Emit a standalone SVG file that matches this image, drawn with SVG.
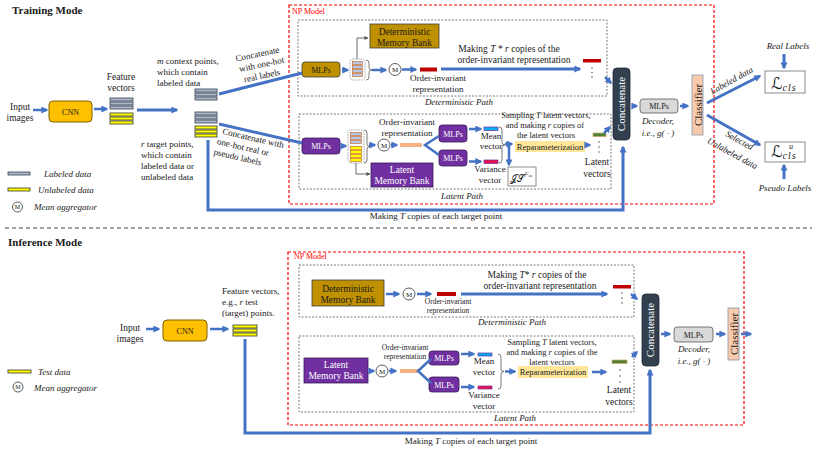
<svg xmlns="http://www.w3.org/2000/svg" width="822" height="453" viewBox="0 0 822 453" font-size="9">
<defs>
<style>
text{font-family:"Liberation Serif","Times New Roman",serif;fill:#1a1a1a}
.i{font-style:italic}
.bd{font-weight:bold}
.c{text-anchor:middle}
.w{fill:#fff}
.bl{stroke:#4472C4;stroke-width:2.5;fill:none;marker-end:url(#a)}
.bl3{stroke:#4472C4;stroke-width:3;fill:none;marker-end:url(#a)}
.bt{stroke:#4472C4;stroke-width:3;fill:none}
.bf{stroke:#4472C4;stroke-width:2.5;fill:none}
.gl{stroke:#595959;stroke-width:0.9;fill:none;marker-end:url(#g)}
.np{fill:none;stroke:#FF0000;stroke-width:1.2;stroke-dasharray:3,2}
.pb{fill:none;stroke:#595959;stroke-width:0.8;stroke-dasharray:2,1.5}
.cnn{fill:#FFC000;stroke:#7F6000;stroke-width:1}
.dmb{fill:#BF9000;stroke:#3F3F3F;stroke-width:0.8}
.pur{fill:#7030A0;stroke:#3B1A5A;stroke-width:0.8}
.gb{fill:#ADB9CA;stroke:#333F50;stroke-width:0.8}
.yb{fill:#FFFF00;stroke:#333333;stroke-width:0.8}
.sb{fill:#B4C7E7;stroke:#C55A11;stroke-width:0.6}
.sy{fill:#FFFF00;stroke:#C55A11;stroke-width:0.6}
.ds{fill:none;stroke:#7F7F7F;stroke-width:0.7;stroke-dasharray:1.5,1}
.br{fill:none;stroke:#595959;stroke-width:0.8}
.cc{fill:#323F4F;stroke:#1F2733;stroke-width:0.8}
.dec{fill:#D9D9D9;stroke:#595959;stroke-width:0.8}
.cl{fill:#F8CBAD;stroke:#8497B0;stroke-width:0.8}
.ag{fill:#fff;stroke:#333;stroke-width:0.8}
.lb{fill:#fff;stroke:#7F7F7F;stroke-width:0.9}
.rp{fill:#FFE699}
.red{fill:#C00000}
.org{fill:#F4B183}
.mn{fill:#00B0F0;stroke:#7030A0;stroke-width:0.7}
.vr{fill:#E8114C;stroke:#7030A0;stroke-width:0.7}
.gr{fill:#548235;stroke:#C9A66B;stroke-width:0.7}
.dot{fill:#333}
.ml{font-family:"DejaVu Serif","DejaVu Sans",serif}
</style>
<marker id="a" viewBox="0 0 10 10" refX="8" refY="5" markerWidth="7" markerHeight="7" markerUnits="userSpaceOnUse" orient="auto"><path d="M0,0L10,5L0,10z" fill="#4472C4"/></marker>
<marker id="g" viewBox="0 0 10 10" refX="9" refY="5" markerWidth="4" markerHeight="4" markerUnits="userSpaceOnUse" orient="auto"><path d="M0,0L10,5L0,10z" fill="#595959"/></marker>
</defs>
<rect width="822" height="453" fill="#fff"/>

<!-- ================= TRAINING MODE ================= -->
<g id="title-train"><text x="12" y="14" class="bd" font-size="11">Training Mode</text></g>
<g id="input-train"><text class="c" x="20" y="110" font-size="9.5">Input</text><text class="c" x="20" y="121" font-size="9.5">images</text></g>
<g id="cnn-train"><rect class="cnn" x="49" y="101" width="43" height="21" rx="4"/><text class="c" x="70.5" y="114.5" font-size="8">CNN</text></g>
<g id="features-train">
<text class="c" x="121" y="80" font-size="9.5">Feature</text><text class="c" x="121" y="91" font-size="9.5">vectors</text>
<rect class="gb" x="110" y="98" width="23" height="3"/><rect class="gb" x="110" y="102" width="23" height="3"/><rect class="gb" x="110" y="106" width="23" height="3"/>
<rect class="yb" x="110" y="113" width="23" height="3"/><rect class="yb" x="110" y="117" width="23" height="3"/><rect class="yb" x="110" y="121" width="23" height="3"/>
</g>
<g id="context-points">
<text x="157" y="64"><tspan class="i">m</tspan> context points,</text><text x="157" y="75">which contain</text><text x="157" y="86">labeled data</text>
<rect class="gb" x="195" y="89" width="22" height="3"/><rect class="gb" x="195" y="93" width="22" height="3"/><rect class="gb" x="195" y="97" width="22" height="3"/>
</g>
<g id="target-points">
<rect class="gb" x="195" y="112" width="22" height="3"/><rect class="gb" x="195" y="116" width="22" height="3"/><rect class="gb" x="195" y="120" width="22" height="3"/>
<rect class="yb" x="195" y="126" width="22" height="3"/><rect class="yb" x="195" y="130" width="22" height="3"/><rect class="yb" x="195" y="134" width="22" height="3"/>
<text x="141" y="147"><tspan class="i">r</tspan> target points,</text><text x="141" y="158">which contain</text><text x="141" y="169">labeled data or</text><text x="141" y="180">unlabeled data</text>
</g>
<g id="concat-label-1" transform="translate(258,57) rotate(-12)">
<text class="c" x="0" y="0">Concatenate</text><text class="c" x="2" y="11">with one-hot</text><text class="c" x="0" y="22">real labels</text>
</g>
<g id="concat-label-2" transform="translate(222,134) rotate(13)">
<text x="0" y="0">Concatenate with</text><text x="-3" y="11">one-hot real or</text><text x="-4" y="22">pseudo labels</text>
</g>
<g id="legend-train">
<rect class="gb" x="8" y="172" width="22" height="3"/><text class="i" x="44" y="176.5">Labeled data</text>
<rect class="yb" x="8" y="188" width="22" height="3"/><text class="i" x="38" y="193">Unlabeled data</text>
<circle class="ag" cx="17.5" cy="207" r="5"/><text class="c" x="17.5" y="209.2" font-size="6">M</text><text class="i" x="34" y="210">Mean aggregator</text>
</g>
<g id="np-train">
<rect class="np" x="289" y="5" width="425" height="199"/>
<text x="292" y="14" font-size="8" style="fill:#FF0000">NP Model</text>
<rect class="pb" x="298" y="20" width="309" height="76"/>
<text class="i c" x="459" y="105">Deterministic Path</text>
<rect class="pb" x="299" y="114" width="312" height="75"/>
<text class="i c" x="462" y="199">Latent Path</text>
</g>
<g id="det-mlps-train"><rect class="dmb" x="302" y="62" width="38" height="15" rx="3"/><text class="c" x="321" y="72.8" font-size="8">MLPs</text></g>
<g id="det-stack-train">
<rect class="ds" x="350" y="59" width="15" height="21" rx="3"/>
<rect class="sb" x="352.5" y="61.5" width="10" height="3"/><rect class="sb" x="352.5" y="65.5" width="10" height="3"/><rect class="sb" x="352.5" y="69.5" width="10" height="3"/><rect class="sb" x="352.5" y="73.5" width="10" height="3"/>
<path class="br" d="M366,60 q3,0 3,3 v4.5 q0,2.5 3,2.5 q-3,0 -3,2.5 v4.5 q0,3 -3,3"/>
</g>
<g id="det-mb-train"><rect class="dmb" x="370" y="24" width="69" height="24"/><text class="c" x="404.5" y="35" font-size="9.5">Deterministic</text><text class="c" x="404.5" y="45.5" font-size="9.5">Memory Bank</text></g>
<g id="det-agg-train"><circle class="ag" cx="395" cy="69.5" r="6"/><text class="c" x="395" y="72" font-size="7">M</text></g>
<g id="det-rep-train"><rect class="red" x="420" y="67.5" width="17" height="4"/><text class="c" x="438" y="81">Order-invariant</text><text class="c" x="438" y="92">representation</text></g>
<g id="det-copies-train"><text class="c" x="509" y="52" font-size="9.5">Making <tspan class="i">T</tspan> * <tspan class="i">r</tspan> copies of the</text><text class="c" x="514" y="63" font-size="9.5">order-invariant representation</text>
<rect class="red" x="583" y="59" width="18" height="3.5"/><circle class="dot" cx="592" cy="68" r="0.7"/><circle class="dot" cx="592" cy="72.5" r="0.7"/><circle class="dot" cx="592" cy="77" r="0.7"/></g>

<g id="lat-mlps-train"><rect class="pur" x="302" y="138" width="38" height="16" rx="3"/><text class="c w" x="321" y="149" font-size="8">MLPs</text></g>
<g id="lat-stack-train">
<rect class="ds" x="348" y="130" width="16" height="33" rx="3"/>
<rect class="sb" x="350.5" y="132.5" width="11" height="3"/><rect class="sb" x="350.5" y="136.5" width="11" height="3"/><rect class="sb" x="350.5" y="140.5" width="11" height="3"/>
<rect class="sy" x="350.5" y="146.5" width="11" height="3"/><rect class="sy" x="350.5" y="150.5" width="11" height="3"/><rect class="sy" x="350.5" y="154.5" width="11" height="3"/><rect class="sy" x="350.5" y="158.5" width="11" height="3"/>
<path class="br" d="M364,130 q3,0 3,3 v11 q0,2.5 3,2.5 q-3,0 -3,2.5 v11 q0,3 -3,3"/>
</g>
<g id="lat-mb-train"><rect class="pur" x="371" y="163" width="62" height="24"/><text class="c w" x="402" y="173" font-size="9.5">Latent</text><text class="c w" x="402" y="184" font-size="9.5">Memory Bank</text></g>
<g id="lat-agg-train"><circle class="ag" cx="384" cy="145" r="6"/><text class="c" x="384" y="147.5" font-size="7">M</text></g>
<g id="lat-rep-train"><rect class="org" x="400" y="143" width="22" height="4"/><text class="c" x="407" y="125">Order-invariant</text><text class="c" x="407" y="136">representation</text></g>
<g id="mean-mlps-train"><rect class="pur" x="439" y="125" width="28" height="17" rx="3"/><text class="c w" x="453" y="136.5" font-size="8">MLPs</text></g>
<g id="var-mlps-train"><rect class="pur" x="439" y="150" width="28" height="16" rx="3"/><text class="c w" x="453" y="161" font-size="8">MLPs</text></g>
<g id="mean-vec-train"><rect class="mn" x="484" y="127" width="14" height="3.5"/><text class="c" x="491" y="138.5">Mean</text><text class="c" x="491" y="149">vector</text></g>
<g id="var-vec-train"><rect class="vr" x="484" y="160" width="14" height="3.5"/><text class="c" x="490" y="172">Variance</text><text class="c" x="490" y="183">vector</text></g>
<path class="br" d="M499,127 q3,0 3,3 v12.5 q0,2.5 3,2.5 q-3,0 -3,2.5 v12.5 q0,3 -3,3"/>
<g id="reparam-train"><rect class="rp" x="515" y="141" width="70" height="11"/><text class="c" x="550" y="149.5" font-size="8.5">Reparameterization</text>
<text class="c" x="546" y="118" font-size="8.5">Sampling <tspan class="i">T</tspan> latent vectors,</text><text class="c" x="545" y="128" font-size="8.5">and making <tspan class="i">r</tspan> copies of</text><text class="c" x="546" y="138" font-size="8.5">the latent vectors</text></g>
<g id="js-train"><rect class="lb" x="508" y="167" width="28" height="19"/><text class="ml" x="510" y="182" font-size="10">𝒥𝒮<tspan class="i" font-size="5" dy="-7" style="font-family:'Liberation Serif',serif">G</tspan><tspan class="i" font-size="3.5" dy="1.5" style="font-family:'Liberation Serif',serif">αu</tspan></text></g>
<g id="latent-vec-train"><rect class="gr" x="593" y="133" width="13" height="3.5"/><circle class="dot" cx="599" cy="142" r="0.7"/><circle class="dot" cx="599" cy="147" r="0.7"/><circle class="dot" cx="599" cy="152" r="0.7"/><text class="c" x="597" y="165" font-size="9.5">Latent</text><text class="c" x="597" y="177" font-size="9.5">vectors</text></g>
<g id="concat-train"><rect class="cc" x="613" y="68" width="17" height="72" rx="4"/><text class="c w" transform="translate(625,104) rotate(-90)" font-size="11">Concatenate</text></g>
<g id="decoder-train"><rect class="dec" x="640" y="99" width="38" height="14" rx="3"/><text class="c" x="659" y="109" font-size="8">MLPs</text><text class="c i" x="658" y="124">Decoder,</text><text class="c i" x="658" y="136">i.e., g( · )</text></g>
<g id="classifier-train"><rect class="cl" x="692" y="75" width="11" height="60"/><text class="c" transform="translate(701.5,105) rotate(-90)" font-size="11">Classifier</text></g>
<g id="lcls"><rect class="lb" x="765" y="71" width="40" height="22"/><text class="ml" x="771" y="89" font-size="16">ℒ<tspan class="i" font-size="10" dy="2" letter-spacing="1" style="font-family:'Liberation Serif',serif">cls</tspan></text>
<text class="c i" x="788" y="49">Real Labels</text></g>
<g id="lucls"><rect class="lb" x="765" y="142" width="40" height="20"/><text class="ml" x="771" y="157" font-size="16">ℒ<tspan class="i" font-size="10" dy="2" letter-spacing="1" style="font-family:'Liberation Serif',serif">cls</tspan></text><text class="i" x="789" y="149" font-size="8">u</text>
<text class="c i" x="785" y="191">Pseudo Labels</text></g>
<g id="cls-labels-train">
<text class="c i" transform="translate(733,83) rotate(-29)">Labeled data</text>
<text class="c i" transform="translate(738,143) rotate(29)">Selected</text>
<text class="c i" transform="translate(731,156) rotate(29)">Unlabeled data</text>
</g>
<g id="copies-target-train"><text class="c" x="436" y="219">Making <tspan class="i">T</tspan> copies of each target point</text></g>

<line x1="5" y1="228" x2="812" y2="228" stroke="#404040" stroke-width="1.2" stroke-dasharray="4,3"/>

<!-- ================= INFERENCE MODE ================= -->
<g id="title-inf"><text x="8" y="246" class="bd" font-size="11">Inference Mode</text></g>
<g id="input-inf"><text class="c" x="130" y="331" font-size="9.5">Input</text><text class="c" x="130" y="342" font-size="9.5">images</text></g>
<g id="cnn-inf"><rect class="cnn" x="163" y="320" width="44" height="21" rx="4"/><text class="c" x="185" y="333.5" font-size="8">CNN</text></g>
<g id="features-inf">
<text x="222" y="294">Feature vectors,</text><text x="222" y="305">e.g., <tspan class="i">r</tspan> test</text><text x="222" y="316">(target) points.</text>
<rect class="yb" x="233" y="325" width="24" height="3"/><rect class="yb" x="233" y="329" width="24" height="3"/><rect class="yb" x="233" y="333" width="24" height="3"/>
</g>
<g id="legend-inf">
<rect class="yb" x="8" y="370" width="23" height="3"/><text class="i" x="38" y="375">Test data</text>
<circle class="ag" cx="18" cy="387" r="5"/><text class="c" x="18" y="389.2" font-size="6">M</text><text class="i" x="34" y="391">Mean aggregator</text>
</g>
<g id="np-inf">
<rect class="np" x="288" y="252" width="456" height="173"/>
<text x="294" y="259" font-size="8" style="fill:#FF0000">NP Model</text>
<rect class="pb" x="299" y="265" width="335" height="52"/>
<text class="i c" x="512" y="325">Deterministic Path</text>
<rect class="pb" x="299" y="336" width="335" height="76"/>
<text class="i c" x="515" y="421">Latent Path</text>
</g>
<g id="det-mb-inf"><rect class="dmb" x="312" y="280" width="72" height="26"/><text class="c" x="348" y="292" font-size="9.5">Deterministic</text><text class="c" x="348" y="303" font-size="9.5">Memory Bank</text></g>
<g id="det-agg-inf"><circle class="ag" cx="409" cy="294" r="6"/><text class="c" x="409" y="296.5" font-size="7">M</text></g>
<g id="det-rep-inf"><rect class="red" x="437" y="292" width="19" height="4"/><text class="c" x="448" y="304" font-size="7.5">Order-invariant</text><text class="c" x="448" y="313" font-size="7.5">representation</text></g>
<g id="det-copies-inf"><text class="c" x="537" y="278" font-size="9.5">Making <tspan class="i">T</tspan>*  <tspan class="i">r</tspan> copies of the</text><text class="c" x="540" y="289" font-size="9.5">order-invariant representation</text>
<rect class="red" x="613" y="285" width="18" height="3.5"/><circle class="dot" cx="622" cy="293" r="0.7"/><circle class="dot" cx="622" cy="298" r="0.7"/><circle class="dot" cx="622" cy="303" r="0.7"/></g>
<g id="lat-mb-inf"><rect class="pur" x="304" y="358" width="64" height="25"/><text class="c w" x="336" y="368" font-size="9.5">Latent</text><text class="c w" x="336" y="379" font-size="9.5">Memory Bank</text></g>
<g id="lat-agg-inf"><circle class="ag" cx="382" cy="371" r="6"/><text class="c" x="382" y="373.5" font-size="7">M</text></g>
<g id="lat-rep-inf"><rect class="org" x="400" y="369" width="18" height="4"/><text class="c" x="405" y="350" font-size="7.5">Order-invariant</text><text class="c" x="405" y="358.5" font-size="7.5">representation</text></g>
<g id="mean-mlps-inf"><rect class="pur" x="429" y="351" width="30" height="14" rx="3"/><text class="c w" x="444" y="361" font-size="8">MLPs</text></g>
<g id="var-mlps-inf"><rect class="pur" x="429" y="377" width="30" height="15" rx="3"/><text class="c w" x="444" y="387.5" font-size="8">MLPs</text></g>
<g id="mean-vec-inf"><rect class="mn" x="478" y="353" width="14" height="3"/><text class="c" x="484" y="364">Mean</text><text class="c" x="484" y="374.5">vector</text></g>
<g id="var-vec-inf"><rect class="vr" x="478" y="386" width="14" height="3"/><text class="c" x="484" y="397.5">Variance</text><text class="c" x="484" y="408.5">vector</text></g>
<path class="br" d="M498,354 q3,0 3,3 v12 q0,2.5 3,2.5 q-3,0 -3,2.5 v12 q0,3 -3,3"/>
<g id="reparam-inf"><rect class="rp" x="518" y="366" width="70" height="12"/><text class="c" x="553" y="375" font-size="8.5">Reparameterization</text>
<text class="c" x="552" y="345" font-size="8.5">Sampling <tspan class="i">T</tspan> latent vectors,</text><text class="c" x="552" y="355" font-size="8.5">and making <tspan class="i">r</tspan> copies of the</text><text class="c" x="552" y="364.5" font-size="8.5">latent vectors</text></g>
<g id="latent-vec-inf"><rect class="gr" x="612" y="360" width="15" height="3.5"/><circle class="dot" cx="620" cy="370" r="0.7"/><circle class="dot" cx="620" cy="376" r="0.7"/><circle class="dot" cx="620" cy="382" r="0.7"/><text class="c" x="619" y="393" font-size="9.5">Latent</text><text class="c" x="619" y="404.5" font-size="9.5">vectors</text></g>
<g id="concat-inf"><rect class="cc" x="642" y="294" width="17" height="72" rx="4"/><text class="c w" transform="translate(654,330) rotate(-90)" font-size="11">Concatenate</text></g>
<g id="decoder-inf"><rect class="dec" x="674" y="327" width="39" height="15" rx="3"/><text class="c" x="693.5" y="337.8" font-size="8">MLPs</text><text class="c i" x="694" y="352">Decoder,</text><text class="c i" x="694" y="364">i.e., g( · )</text></g>
<g id="classifier-inf"><rect class="cl" x="728" y="308" width="11" height="52"/><text class="c" transform="translate(737.5,334) rotate(-90)" font-size="11">Classifier</text></g>
<g id="copies-target-inf"><text class="c" x="471" y="444">Making <tspan class="i">T</tspan> copies of each target point</text></g>

<!-- ================= CONNECTORS ================= -->
<g id="connectors">
<line class="bl" x1="33" y1="110" x2="47" y2="110"/>
<line class="bl" x1="94" y1="109" x2="107" y2="109"/>
<line class="bl3" x1="137" y1="110" x2="177" y2="110"/>
<line class="bt" x1="219" y1="94" x2="302" y2="73"/>
<line class="bt" x1="219" y1="124" x2="302" y2="143"/>
<path class="bl3" d="M208,140 V210 H623 V147"/>
<line class="bl" x1="342" y1="70" x2="348" y2="70"/>
<path class="gl" d="M357,59 V38 H368"/>
<line class="bl" x1="372" y1="70" x2="386" y2="70"/>
<line class="bl" x1="402" y1="69.5" x2="416" y2="69.5"/>
<line class="bl3" x1="441" y1="69" x2="580" y2="69"/>
<line class="bl" x1="605" y1="77" x2="611" y2="83"/>
<line class="bl" x1="342" y1="146" x2="346" y2="146"/>
<path class="gl" d="M356,163 V174 H370"/>
<line class="bl" x1="369" y1="145" x2="375" y2="145"/>
<line class="bl" x1="391" y1="145" x2="397" y2="145"/>
<path class="bf" d="M439,136 L425,145 L439,155"/>
<line class="bl" x1="469" y1="129" x2="481" y2="129"/>
<line class="bl" x1="469" y1="161.5" x2="481" y2="161.5"/>
<line class="bl" x1="505" y1="144" x2="512" y2="144"/>
<line class="bl" x1="509" y1="144" x2="509" y2="165"/>
<line class="bl" x1="586" y1="145" x2="590" y2="145"/>
<line class="bl" x1="604" y1="133" x2="610" y2="127"/>
<line class="bl" x1="632" y1="106" x2="637" y2="106"/>
<line class="bl" x1="680" y1="106" x2="688" y2="106"/>
<line class="bl3" x1="707" y1="103" x2="760" y2="76"/>
<line class="bl3" x1="707" y1="115" x2="760" y2="145"/>
<line class="bl3" x1="784" y1="54" x2="784" y2="68"/>
<line class="bl3" x1="784" y1="179" x2="784" y2="165"/>

<line class="bl" x1="146" y1="329" x2="159" y2="329"/>
<line class="bl" x1="210" y1="329" x2="228" y2="329"/>
<path class="bl3" d="M245,339 V433 H650 V370"/>
<line class="bl" x1="386" y1="294" x2="399" y2="294"/>
<line class="bl" x1="417" y1="294" x2="431" y2="294"/>
<line class="bl3" x1="461" y1="294" x2="607" y2="294"/>
<line class="bl" x1="631" y1="294" x2="637" y2="299"/>
<line class="bl" x1="370" y1="371" x2="374" y2="371"/>
<line class="bl" x1="389" y1="371" x2="396" y2="371"/>
<path class="bf" d="M431,359 L418,371 L431,383"/>
<line class="bl" x1="461" y1="354" x2="474" y2="354"/>
<line class="bl" x1="461" y1="387" x2="474" y2="387"/>
<line class="bl" x1="505" y1="371.5" x2="515" y2="371.5"/>
<line class="bl" x1="592" y1="372" x2="606" y2="372"/>
<line class="bl" x1="632" y1="357" x2="637" y2="352"/>
<line class="bl" x1="661" y1="334" x2="670" y2="334"/>
<line class="bl" x1="716" y1="334" x2="725" y2="334"/>
<line class="bl" x1="741" y1="334" x2="751" y2="334"/>
</g>
</svg>
